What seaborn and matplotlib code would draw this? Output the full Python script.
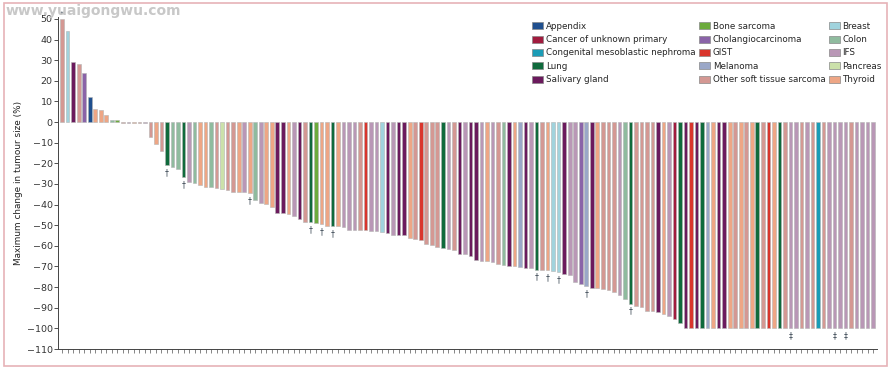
import numpy as np
import pandas as pd
import seaborn as sns
import matplotlib.pyplot as plt
from matplotlib.patches import Patch, Rectangle

tumour_names = {
    "APP": "Appendix",
    "CUP": "Cancer of unknown primary",
    "CMN": "Congenital mesoblastic nephroma",
    "LUN": "Lung",
    "SAL": "Salivary gland",
    "BON": "Bone sarcoma",
    "CHO": "Cholangiocarcinoma",
    "GIS": "GIST",
    "MEL": "Melanoma",
    "STS": "Other soft tissue sarcoma",
    "BRE": "Breast",
    "COL": "Colon",
    "IFS": "IFS",
    "PAN": "Pancreas",
    "THY": "Thyroid",
}
tumour_colors = {
    "APP": "#1f4f8e",
    "CUP": "#a11b3e",
    "CMN": "#1b9cb6",
    "LUN": "#0f6a3c",
    "SAL": "#6b1a5d",
    "BON": "#6cab3c",
    "CHO": "#8a63a8",
    "GIS": "#d9352c",
    "MEL": "#9aa7c8",
    "STS": "#d49893",
    "BRE": "#a0d3dd",
    "COL": "#8fbb9e",
    "IFS": "#b997b6",
    "PAN": "#cbe1aa",
    "THY": "#eea685",
}

change = (
    [50, 44, 29, 28, 24, 12, 6.5, 6, 3.5, 0.8, 0.8]
    + [-0.4, -0.4, -0.4, -0.4, -0.4]
    + [-7.4, -10.4, -13.9, -20.9, -21.7, -22.7, -26.5, -29.0, -29.3, -30.4, -31.4,
       -31.7, -31.9, -32.2, -32.7, -33.8, -33.8, -34.1, -34.6, -37.9, -39.2]
    + [-39.6, -41.1, -43.9, -43.9, -44.4, -45.6, -46.8, -48.4, -48.4, -48.9, -49.5,
       -50.5, -50.5, -50.5, -50.8, -52.1, -52.1, -52.4, -52.4, -52.8, -52.9, -53.2,
       -54.0, -54.7, -54.9, -54.9, -56.1, -56.8, -57.3, -59.2, -59.7, -60.5, -60.8,
       -61.3, -62.1, -64.1, -64.1]
    + [-64.9, -67.0, -67.3, -67.3, -67.8, -68.6, -69.4, -69.7, -69.9, -70.2, -70.6,
       -70.6, -71.5, -71.5, -71.8, -72.0, -72.7, -73.5, -74.0, -77.5, -78.3, -79.6,
       -80.3, -80.3, -80.7, -81.6, -82.4, -84.0, -85.6, -88.0, -89.3, -89.6, -91.6,
       -91.6, -92.0, -93.2, -94.2, -95.4]
    + [-97.4] + [-100] * 35
)

tumour = (
    ["STS", "BRE", "SAL", "STS", "CHO", "APP", "THY", "THY", "THY", "COL", "BON"]
    + ["STS", "IFS", "THY", "STS", "IFS"]
    + ["STS", "THY", "STS", "LUN", "COL", "COL", "LUN", "IFS", "COL", "THY", "THY",
       "COL", "STS", "PAN", "STS", "STS", "THY", "IFS", "THY", "COL", "IFS"]
    + ["THY", "THY", "SAL", "SAL", "THY", "IFS", "SAL", "STS", "LUN", "BON", "THY",
       "THY", "LUN", "THY", "IFS", "IFS", "IFS", "STS", "GIS", "IFS", "IFS", "BRE",
       "SAL", "IFS", "SAL", "SAL", "THY", "STS", "GIS", "STS", "STS", "STS", "LUN",
       "IFS", "STS", "SAL", "IFS"]
    + ["SAL", "SAL", "IFS", "THY", "IFS", "STS", "COL", "SAL", "THY", "MEL", "SAL",
       "IFS", "LUN", "STS", "THY", "BRE", "BRE", "SAL", "IFS", "IFS", "CHO", "MEL",
       "SAL", "THY", "STS", "STS", "STS", "IFS", "COL", "LUN", "STS", "STS", "STS",
       "STS", "SAL", "THY", "IFS", "CUP"]
    + ["LUN", "SAL", "GIS", "SAL", "LUN", "MEL", "THY", "SAL", "SAL", "THY", "STS",
       "THY", "STS", "THY", "LUN", "STS", "GIS", "THY", "LUN", "STS", "IFS", "IFS",
       "STS", "IFS", "STS", "CMN", "STS", "IFS", "IFS", "IFS", "IFS", "STS", "IFS",
       "IFS", "IFS", "IFS"]
)

# symbols under / above bars: (patient index, symbol)
marks = [(0, "*"), (19, "†"), (22, "†"), (34, "†"), (45, "†"), (47, "†"), (49, "†"),
         (86, "†"), (88, "†"), (90, "†"), (95, "†"), (103, "†"),
         (132, "‡"), (140, "‡"), (142, "‡")]

df = pd.DataFrame({"patient": np.arange(len(change)), "change": change, "tumour": tumour})

sns.set_style("ticks")
plt.rcParams["font.family"] = ["DejaVu Sans"]

fig = plt.figure(figsize=(8.91, 3.69), dpi=100)
ax = fig.add_axes([0.0654, 0.0542, 0.9189, 0.9])

sns.barplot(data=df, x="patient", y="change", hue="tumour", palette=tumour_colors,
            dodge=False, width=0.66, saturation=1, edgecolor="#b4b4b4", linewidth=0.4,
            legend=False, ax=ax)

for i, sym in marks:
    v = change[i]
    if v > 0:
        ax.text(i, v - 0.5, sym, ha="center", va="bottom", fontsize=5.5, color="#33404d")
    else:
        ax.text(i, v - 1.5, sym, ha="center", va="top", fontsize=5.5, color="#33404d")

ax.set_xlim(-0.7, len(change) - 0.3)
ax.set_ylim(-110, 51)
ax.set_yticks(np.arange(-110, 51, 10))
ax.set_xticks(np.arange(len(change)))
ax.set_xticklabels([])
ax.set_xlabel("")
ax.set_ylabel("Maximum change in tumour size (%)", fontsize=6.4, color="#222222", labelpad=3)
ax.tick_params(axis="y", labelsize=6.8, length=3, width=0.6, colors="#333333", pad=1)
ax.tick_params(axis="x", length=3, width=0.5, colors="#555555")
for s in ["top", "right"]:
    ax.spines[s].set_visible(False)
for s in ["left", "bottom"]:
    ax.spines[s].set_linewidth(0.7)
    ax.spines[s].set_color("#444444")

handles = [Patch(facecolor=tumour_colors[k], edgecolor="#888888", linewidth=0.5,
                 label=tumour_names[k]) for k in tumour_names]
fig.legend(handles=handles, ncol=3, loc="upper left", bbox_to_anchor=(0.5926, 0.953),
           frameon=False, fontsize=6.3, handlelength=1.25, handleheight=0.85,
           handletextpad=0.3, labelspacing=0.5, columnspacing=0.4, borderpad=0)

fig.text(0.006, 0.988, "www.yuaigongwu.com", fontsize=10, fontweight="bold",
         color="#c8c8c8", va="top", ha="left")
fig.add_artist(Rectangle((0.004, 0.008), 0.992, 0.984, transform=fig.transFigure,
                         fill=False, edgecolor="#e6b3b8", linewidth=1.2))

fig.savefig("out.png", dpi=100)
